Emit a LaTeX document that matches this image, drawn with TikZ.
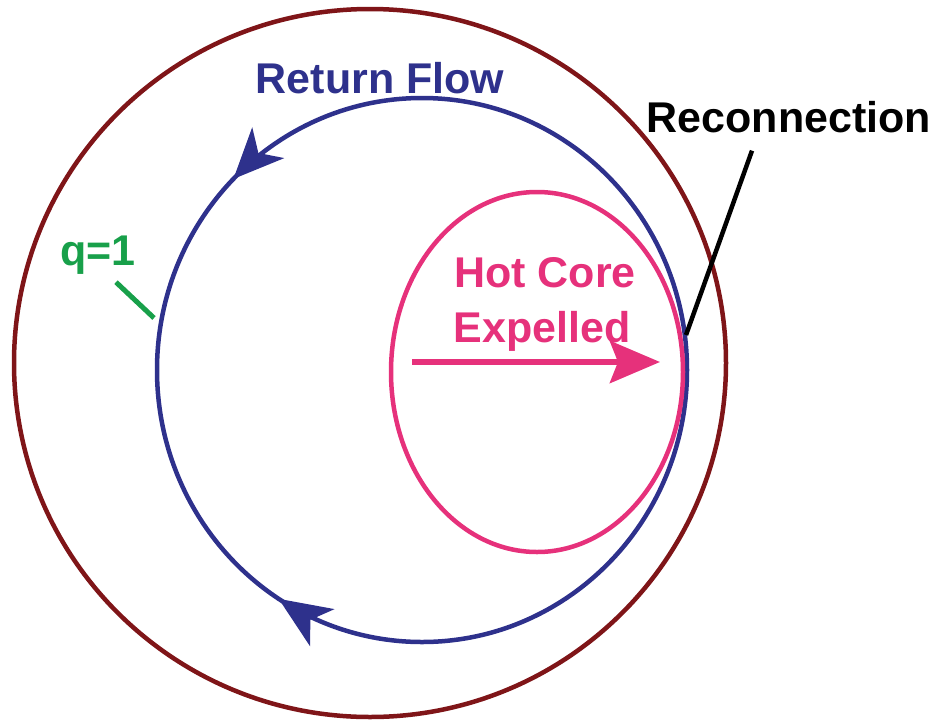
\documentclass[tikz,border=0pt]{standalone}
\usepackage{fontspec}
\setmainfont{Liberation Sans}
\usepackage{xcolor}
\usetikzlibrary{
  arrows.meta,
  positioning,
  decorations.markings}
\definecolor{rimred}{RGB}{127,21,24}
\definecolor{flowblue}{RGB}{46,49,140}
\definecolor{corepink}{RGB}{230,49,123}
\definecolor{qgreen}{RGB}{24,160,74}
\tikzset{every picture/.style={font issue=\fontsize{43}{50}\bfseries},
         font issue/.style={execute at begin picture={#1\selectfont}}
        }

\begin{document}
\begin{tikzpicture}[x=1pt, y=-1pt, line width=4.5pt,
  label text/.style={inner sep=0pt, anchor=base},
  flow head/.style={Stealth[length=50pt, width=44pt, inset=14pt]}]
\useasboundingbox (0,0) rectangle (935,721);
\coordinate (zero) at (370,363);
\coordinate (flow_centre) at (422,370);
\coordinate (core_centre) at (537,372);

\draw[rimred](zero) ellipse [x radius=356, y radius=354];

\draw[flowblue, postaction={decorate}, decoration={markings,
    mark=at position 0.34 with {\arrow{Stealth[length=52pt, width=44pt, inset=14pt]}},
    mark=at position 0.625 with {\arrowreversed{Stealth[length=50pt, width=44pt, inset=14pt]}}}]
  (flow_centre) ellipse [x radius=265, y radius=272];

\draw[corepink](core_centre) ellipse [x radius=146, y radius=180];

\node[label text, flowblue](return_flow) at (380,93){Return Flow};
\node[label text](reconnection) at (789,132){Reconnection};
\node[label text, corepink](hot_core) at (545,287){Hot Core};
\node[label text, corepink](expelled) at (542,342){Expelled};
\node[label text, qgreen](q_one) at (98,265){q=1};

\coordinate (core_tail) at (412,362);
\coordinate (core_tip) at (660,362);
\draw[corepink, line width=6pt, -{Stealth[length=50pt, width=42pt, inset=8pt]}](core_tail) -- (core_tip);

\coordinate (reconnection_point) at (686,335);
\draw([xshift=-37pt, yshift=-16pt]reconnection.south) -- (reconnection_point);

\coordinate (q_contact) at (154,318);
\draw[qgreen, line width=5pt]([xshift=18pt, yshift=-6pt]q_one.south) -- (q_contact);

\end{tikzpicture}
\end{document}
